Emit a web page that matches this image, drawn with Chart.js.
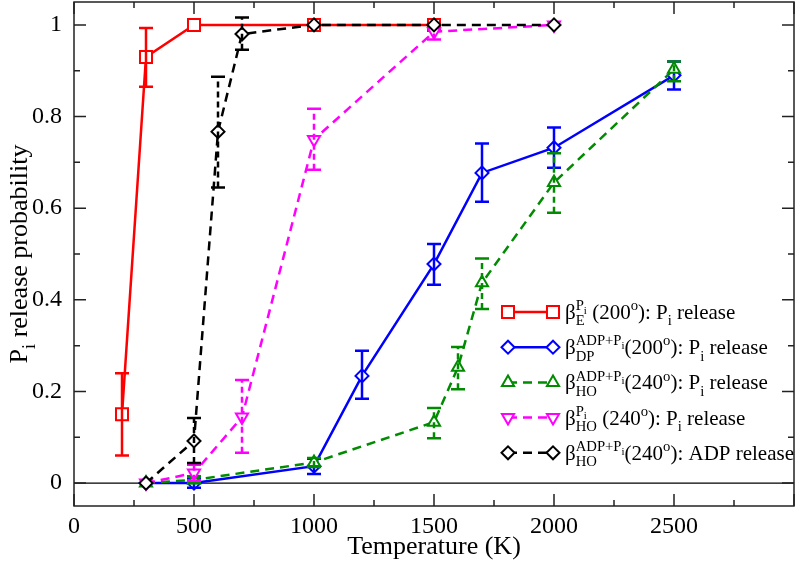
<!DOCTYPE html>
<html>
<head>
<meta charset="utf-8">
<script src="https://cdn.jsdelivr.net/npm/chart.js@4.4.0/dist/chart.umd.min.js"></script>
<style>
html, body { margin: 0; padding: 0; background: #fff; }
#wrap { width: 796px; height: 562px; }
</style>
</head>
<body>
<div id="wrap"><canvas id="myChart"></canvas></div>
<script>
const FONT = '"Liberation Serif", "Times New Roman", serif'

// axis ticks
const xTicks = [0, 500, 1000, 1500, 2000, 2500, 3000]
const xTickLabels = ['0', '500', '1000', '1500', '2000', '2500', '']
const xMinorTicks = [250, 750, 1250, 1750, 2250, 2750]
const yTicks = [0, 0.2, 0.4, 0.6, 0.8, 1]
const yTickLabels = ['0', '0.2', '0.4', '0.6', '0.8', '1']
const yMinorTicks = [0.1, 0.3, 0.5, 0.7, 0.9]

// beta_E (200), Pi release
const tempE = [200, 300, 500, 1000, 1500]
const probE = [0.15, 0.93, 1.0, 1.0, 1.0]
const loE   = [0.06, 0.865, 1.0, 1.0, 1.0]
const hiE   = [0.24, 0.993, 1.0, 1.0, 1.0]

// beta_DP (200), Pi release
const tempDP = [300, 500, 1000, 1200, 1500, 1700, 2000, 2500]
const probDP = [0, 0, 0.037, 0.234, 0.478, 0.677, 0.732, 0.89]
const loDP   = [0, -0.01, 0.02, 0.184, 0.433, 0.614, 0.688, 0.859]
const hiDP   = [0, 0.01, 0.053, 0.289, 0.522, 0.741, 0.776, 0.92]

// beta_HO ADP+Pi (240), Pi release
const tempHO = [300, 500, 1000, 1500, 1600, 1700, 2000, 2500]
const probHO = [0, 0.007, 0.045, 0.133, 0.253, 0.437, 0.656, 0.903]
const loHO   = [0, 0, 0.035, 0.098, 0.205, 0.38, 0.59, 0.877]
const hiHO   = [0, 0.015, 0.055, 0.164, 0.297, 0.49, 0.72, 0.92]

// beta_HO Pi (240), Pi release
const tempHOp = [300, 500, 700, 1000, 1500, 2000]
const probHOp = [0, 0.022, 0.144, 0.75, 0.985, 1.0]
const loHOp   = [0, 0.005, 0.066, 0.684, 0.968, 1.0]
const hiHOp   = [0, 0.04, 0.225, 0.817, 1.0, 1.0]

// beta_HO ADP+Pi (240), ADP release
const tempADP = [300, 500, 600, 700, 1000, 1500, 2000]
const probADP = [0, 0.092, 0.767, 0.98, 1, 1, 1]
const loADP   = [0, 0.044, 0.645, 0.946, 1, 1, 1]
const hiADP   = [0, 0.142, 0.887, 1.016, 1, 1, 1]

// rich text helpers: normal, sup, sub, sub-inside-sup, stack markers
const N = t => ({ t, k: 'n' })
const SUP = t => ({ t, k: 'sup' })
const SUB = t => ({ t, k: 'sub' })
const SS = t => ({ t, k: 'ss' })
const STACK = { k: 'stack' }, UNDER = { k: 'under' }, END = { k: 'end' }

const legendLabels = [
    [N('β'), STACK, SUP('P'), SS('i'), UNDER, SUB('E'), END, N(' (200'), SUP('o'), N('): P'), SUB('i'), N(' release')],
    [N('β'), STACK, SUP('ADP+P'), SS('i'), UNDER, SUB('DP'), END, N('(200'), SUP('o'), N('): P'), SUB('i'), N(' release')],
    [N('β'), STACK, SUP('ADP+P'), SS('i'), UNDER, SUB('HO'), END, N('(240'), SUP('o'), N('): P'), SUB('i'), N(' release')],
    [N('β'), STACK, SUP('P'), SS('i'), UNDER, SUB('HO'), END, N(' (240'), SUP('o'), N('): P'), SUB('i'), N(' release')],
    [N('β'), STACK, SUP('ADP+P'), SS('i'), UNDER, SUB('HO'), END, N('(240'), SUP('o'), N('): ADP release')],
]
const yTitle = [N('P'), SUB('i'), N(' release probability')]
const xTitle = [N('Temperature (K)')]

const richStyle = {
    n:   { sc: 1,    dy: 0 },
    sup: { sc: 0.7,  dy: -0.42 },
    sub: { sc: 0.7,  dy: 0.3 },
    ss:  { sc: 0.52, dy: -0.25 },
}

function drawRich(ctx, x, y, segs, size, dry) {
    let start = x, stackStart = 0, stackEnd = 0
    segs.forEach(s => {
        if (s.k === 'stack') { stackStart = x; return }
        if (s.k === 'under') { stackEnd = x; x = stackStart; return }
        if (s.k === 'end') { x = Math.max(x, stackEnd); return }
        const st = richStyle[s.k]
        ctx.font = (size * st.sc) + 'px ' + FONT
        if (!dry) ctx.fillText(s.t, x, y + st.dy * size)
        x += ctx.measureText(s.t).width
    })
    return x - start
}

function drawMarker(ctx, style, x, y, r) {
    ctx.beginPath()
    if (style === 'rect') {
        const s = r * Math.SQRT1_2
        ctx.rect(x - s, y - s, 2 * s, 2 * s)
    } else if (style === 'rectRot') {
        ctx.moveTo(x - r, y); ctx.lineTo(x, y - r); ctx.lineTo(x + r, y); ctx.lineTo(x, y + r); ctx.closePath()
    } else {
        const d = style === 'triDown' ? -1 : 1
        ctx.moveTo(x, y - d * r)
        ctx.lineTo(x + r * 0.866, y + d * r * 0.5)
        ctx.lineTo(x - r * 0.866, y + d * r * 0.5)
        ctx.closePath()
    }
    ctx.fill(); ctx.stroke()
}

const series = [
    { t: tempE, p: probE, lo: loE, hi: hiE, color: '#ff0000', dash: [], marker: 'rect', r: 8.5 },
    { t: tempDP, p: probDP, lo: loDP, hi: hiDP, color: '#0000ff', dash: [], marker: 'rectRot', r: 6.5 },
    { t: tempHO, p: probHO, lo: loHO, hi: hiHO, color: '#008b00', dash: [9, 6], marker: 'triUp', r: 7 },
    { t: tempHOp, p: probHOp, lo: loHOp, hi: hiHOp, color: '#ff00ff', dash: [9, 6], marker: 'triDown', r: 7 },
    { t: tempADP, p: probADP, lo: loADP, hi: hiADP, color: '#000000', dash: [9, 6], marker: 'rectRot', r: 6.5 },
]

const datasets = series.map((s, i) => ({
    data: s.t.map((x, j) => ({ x, y: s.p[j] })),
    borderColor: s.color,
    borderWidth: 2.5,
    borderDash: s.dash,
    pointStyle: s.marker === 'rect' ? 'rect' : s.marker === 'rectRot' ? 'rectRot' : 'triangle',
    rotation: s.marker === 'triDown' ? 180 : 0,
    pointRadius: s.r,
    pointBorderWidth: 2,
    pointBackgroundColor: '#ffffff',
    pointBorderColor: s.color,
    fill: false,
    tension: 0,
    order: series.length - i,
}))

//--ERROR BARS, drawn right after each dataset
const errorBars = {
    id: 'errorBars',
    afterDatasetDraw(chart, args) {
        const s = series[args.index]
        const xs = chart.scales.x, ys = chart.scales.y
        const ctx = chart.ctx
        ctx.save()
        ctx.strokeStyle = s.color
        ctx.lineWidth = 2.5
        s.t.forEach((t, j) => {
            if (s.hi[j] - s.lo[j] < 0.001) return
            const px = xs.getPixelForValue(t)
            const yl = ys.getPixelForValue(s.lo[j]), yh = ys.getPixelForValue(s.hi[j])
            ctx.setLineDash(s.dash.length ? [6, 4] : [])
            ctx.beginPath(); ctx.moveTo(px, yl); ctx.lineTo(px, yh); ctx.stroke()
            ctx.setLineDash([])
            ctx.beginPath()
            ctx.moveTo(px - 7, yl); ctx.lineTo(px + 7, yl)
            ctx.moveTo(px - 7, yh); ctx.lineTo(px + 7, yh)
            ctx.stroke()
        })
        ctx.restore()
    }
}

//--FRAME, INWARD TICKS, ZERO LINE, TITLES, LEGEND
const decorations = {
    id: 'decorations',
    beforeDatasetsDraw(chart) {
        const { ctx, chartArea: a } = chart
        const y0 = chart.scales.y.getPixelForValue(0)
        ctx.save()
        ctx.strokeStyle = '#000'; ctx.lineWidth = 1.2
        ctx.beginPath(); ctx.moveTo(a.left, y0); ctx.lineTo(a.right, y0); ctx.stroke()
        ctx.restore()
    },
    afterDraw(chart) {
        const { ctx, chartArea: a } = chart
        const xs = chart.scales.x, ys = chart.scales.y
        ctx.save()
        ctx.strokeStyle = '#222'; ctx.lineWidth = 1.5
        ctx.strokeRect(a.left, a.top, a.right - a.left, a.bottom - a.top)
        ctx.beginPath()
        const xt = (v, len) => {
            const p = xs.getPixelForValue(v)
            ctx.moveTo(p, a.bottom); ctx.lineTo(p, a.bottom - len)
            ctx.moveTo(p, a.top); ctx.lineTo(p, a.top + len)
        }
        const yt = (v, len) => {
            const p = ys.getPixelForValue(v)
            ctx.moveTo(a.left, p); ctx.lineTo(a.left + len, p)
            ctx.moveTo(a.right, p); ctx.lineTo(a.right - len, p)
        }
        xTicks.forEach(v => xt(v, 12)); xMinorTicks.forEach(v => xt(v, 6))
        yTicks.forEach(v => yt(v, 12)); yMinorTicks.forEach(v => yt(v, 6))
        ctx.stroke()

        // axis titles
        ctx.fillStyle = '#000'
        ctx.textBaseline = 'alphabetic'
        ctx.textAlign = 'left'
        const tsize = 26
        let w = drawRich(ctx, 0, 0, xTitle, tsize, true)
        drawRich(ctx, (a.left + a.right) / 2 - w / 2, 554, xTitle, tsize)
        ctx.save()
        ctx.translate(27, (a.top + a.bottom) / 2)
        ctx.rotate(-Math.PI / 2)
        w = drawRich(ctx, 0, 0, yTitle, tsize, true)
        drawRich(ctx, -w / 2, 0, yTitle, tsize)
        ctx.restore()

        // legend
        const lx = 508, lx2 = 553, tx = 565, rowY = 312, rowH = 35.2
        series.forEach((s, i) => {
            const y = rowY + i * rowH
            ctx.strokeStyle = s.color; ctx.lineWidth = 2.5
            ctx.setLineDash(s.dash)
            ctx.beginPath(); ctx.moveTo(lx, y); ctx.lineTo(lx2, y); ctx.stroke()
            ctx.setLineDash([])
            ctx.lineWidth = 2; ctx.fillStyle = '#fff'
            drawMarker(ctx, s.marker, lx, y, s.r)
            drawMarker(ctx, s.marker, lx2, y, s.r)
            ctx.fillStyle = '#000'
            drawRich(ctx, tx, y + 7, legendLabels[i], 21)
        })
        ctx.restore()
    }
}

const zeroPad = (scale) => {
    scale.paddingTop = 0; scale.paddingBottom = 0
    scale.paddingLeft = 0; scale.paddingRight = 0
}

const ctx = document.getElementById('myChart')
new Chart(ctx, {
    type: 'line',
    data: { datasets },
    options: {
        responsive: true,
        maintainAspectRatio: false,
        animation: false,
        layout: { autoPadding: false, padding: { top: 2, right: 2, left: 0, bottom: 0 } },
        plugins: { legend: { display: false }, tooltip: { enabled: false } },
        scales: {
            x: {
                type: 'linear',
                min: 0, max: 3000,
                afterBuildTicks: (scale) => { scale.ticks = xTicks.map(v => ({ value: v })) },
                afterFit: (scale) => { scale.height = 56; zeroPad(scale) },
                grid: { display: false, drawTicks: false },
                border: { display: false },
                ticks: {
                    padding: 6,
                    color: '#000',
                    maxRotation: 0,
                    autoSkip: false,
                    font: { family: FONT, size: 24 },
                    callback: (v) => xTickLabels[xTicks.indexOf(v)] ?? ''
                }
            },
            y: {
                type: 'linear',
                min: -0.05, max: 1.05,
                afterBuildTicks: (scale) => { scale.ticks = yTicks.map(v => ({ value: v })) },
                afterFit: (scale) => { scale.width = 74; zeroPad(scale) },
                grid: { display: false, drawTicks: false },
                border: { display: false },
                ticks: {
                    padding: 12,
                    color: '#000',
                    autoSkip: false,
                    font: { family: FONT, size: 24 },
                    callback: (v) => yTickLabels[yTicks.indexOf(v)] ?? ''
                }
            }
        }
    },
    plugins: [errorBars, decorations]
})
</script>
</body>
</html>
